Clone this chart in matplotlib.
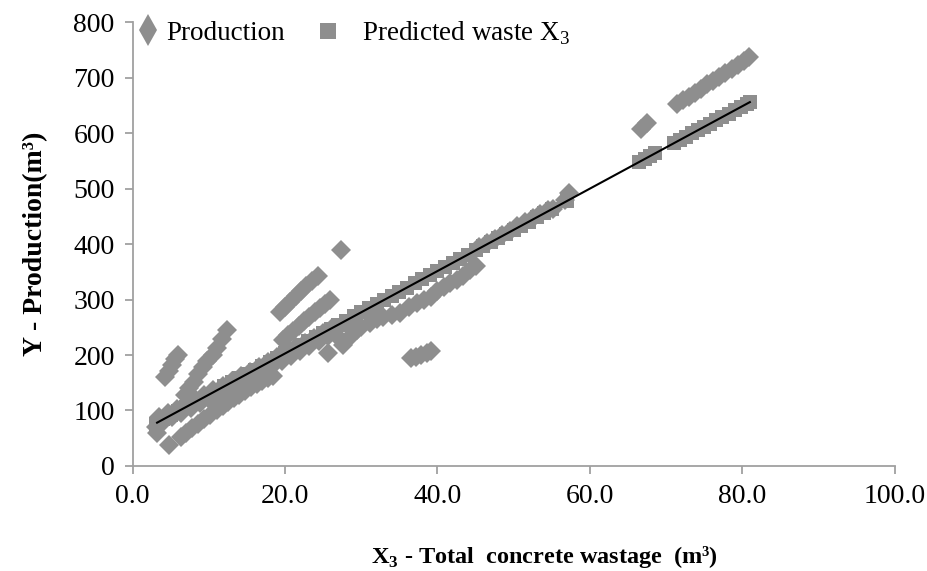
import matplotlib
matplotlib.use("Agg")
import matplotlib.pyplot as plt
import matplotlib.lines as mlines

plt.rcParams["font.family"] = ["Liberation Serif", "DejaVu Serif"]

# -- data ----------------------------------------------------------------------
# Production (diamonds): X3 wastage vs production
prod_x = [
    # near the trend line, lower-left
    3.0, 3.2, 3.4, 4.0, 4.6, 5.2, 5.8, 6.4, 7.0, 7.6, 8.2, 8.8, 9.4, 10.0, 10.6,
    11.2, 11.8, 12.4, 13.0, 13.6, 14.2, 14.8, 15.4, 16.0, 16.6, 17.2, 17.8, 18.4,
    19.0, 19.6, 20.2, 20.8, 21.4, 22.0, 22.6, 23.2, 23.8, 24.4, 25.0, 25.6, 26.2,
    # lower streak below the line
    4.8, 6.3, 7.0, 7.8, 8.6, 9.4, 10.2, 11.0, 11.8, 12.5, 13.3, 14.0, 14.8, 15.5,
    16.3, 17.0, 17.7, 18.4,
    # cluster above, x ~ 5
    4.3, 4.8, 5.2, 5.6, 6.0,
    # steep streak
    6.8, 7.4, 8.0, 8.6, 9.2, 9.8, 10.5, 11.0, 11.7, 12.4,
    # two streaks above the line around x = 20-26
    19.3, 20.0, 20.7, 21.4, 22.1, 22.8, 23.5, 24.3,
    19.7, 20.4, 21.1, 21.8, 22.5, 23.2, 23.9, 24.6, 25.3, 25.9,
    # isolated / below line
    27.3, 25.6, 27.6, 28.5, 29.5,
    # low cluster x ~ 36-40
    36.5, 37.2, 37.9, 38.6, 39.2,
    # band below the line x ~ 27-45
    26.9, 28.9, 30.0, 31.2, 32.0, 32.9, 34.0, 35.1, 36.2, 37.3, 38.2, 39.1,
    40.0, 40.8, 41.7, 42.5, 43.4, 44.3, 45.0,
    # near the line x ~ 45-56
    45.5, 46.5, 47.5, 48.5, 49.5, 50.5, 51.5, 52.5, 53.5, 54.5, 55.2,
    # x ~ 57
    56.8, 57.2,
    # x ~ 67
    66.7, 67.5,
    # upper streak x ~ 71-81
    71.4, 72.2, 73.0, 73.8, 74.6, 75.4, 76.2, 77.0, 77.8, 78.6, 79.4, 80.2, 80.9,
]
prod_y = [
    70, 60, 88, 80, 95, 88, 103, 96, 112, 105, 120, 113, 128, 121, 137,
    130, 145, 139, 154, 147, 162, 156, 170, 164, 179, 172, 188, 182,
    196, 190, 205, 199, 214, 208, 222, 216, 231, 225, 240, 234, 249,
    38, 52, 60, 68, 76, 84, 92, 100, 108, 115, 122, 128, 135, 142,
    148, 153, 158, 163,
    160, 172, 182, 192, 200,
    128, 140, 152, 165, 178, 190, 200, 212, 228, 245,
    278, 287, 296, 306, 315, 324, 333, 343,
    227, 236, 244, 252, 261, 269, 277, 285, 292, 299,
    390, 203, 218, 232, 245,
    194, 197, 200, 204, 207,
    232, 245, 250, 258, 265, 269, 272, 276, 286, 293, 300, 305,
    316, 323, 330, 335, 343, 353, 360,
    395, 402, 410, 417, 424, 432, 440, 447, 455, 461, 463,
    480, 492,
    608, 618,
    652, 659, 666, 673, 680, 688, 695, 702, 709, 716, 723, 731, 738,
]

# Predicted waste X3 (squares)
pred_x = [
    3, 4, 5, 6, 7, 8, 9, 10, 11, 12, 13, 14, 15, 16, 17, 18, 19, 20, 21, 22,
    23, 24, 25, 26, 27, 28, 29, 30, 31, 32, 33, 34, 35, 36, 37, 38, 39, 40,
    41, 42, 43, 44, 45, 46, 47, 48, 49, 50, 51, 52, 53, 54, 55, 57,
    66.5, 67.2, 67.9, 68.6,
    71.0, 71.8, 72.6, 73.4, 74.2, 75.0, 75.8, 76.6, 77.4, 78.2, 79.0, 79.8,
    80.6, 81.0,
]
pred_y = [
    76.5, 83.9, 91.4, 98.8, 106.2, 113.6, 121.1, 128.5, 135.9, 143.4, 150.8,
    158.2, 165.7, 173.1, 180.5, 187.9, 195.4, 202.8, 210.2, 217.7, 225.1,
    232.5, 240.0, 247.4, 254.8, 262.2, 269.7, 277.1, 284.5, 292.0, 299.4,
    306.8, 314.3, 321.7, 329.1, 336.5, 344.0, 351.4, 358.8, 366.3, 373.7,
    381.1, 388.6, 396.0, 403.4, 410.8, 418.3, 425.7, 433.1, 440.6, 448.0,
    455.4, 462.9, 477.7,
    548.3, 553.5, 558.7, 563.9,
    581.7, 587.7, 593.6, 599.6, 605.5, 611.5, 617.4, 623.3, 629.3, 635.2,
    641.2, 647.1, 653.1, 656.0,
]

# linear trend line end points
trend_x = [3.2, 81.0]
trend_y = [78, 656]

GRAY = "#8e8e8e"
AXIS = "#a0a0a0"

# -- figure --------------------------------------------------------------------
fig = plt.figure(figsize=(9.28, 5.71), dpi=100)
ax = fig.add_axes([0.143, 0.184, 0.821, 0.777])

ax.plot(prod_x, prod_y, linestyle="None", marker="D", markersize=10,
        color=GRAY, markeredgewidth=0, zorder=2)
ax.plot(pred_x, pred_y, linestyle="None", marker="s", markersize=10,
        color=GRAY, markeredgewidth=0, zorder=3)
ax.plot(trend_x, trend_y, color="black", lw=1.5, zorder=4)

ax.set_xlim(0, 100)
ax.set_ylim(0, 800)
ax.set_xticks([0, 20, 40, 60, 80, 100])
ax.set_xticklabels(["0.0", "20.0", "40.0", "60.0", "80.0", "100.0"])
ax.set_yticks(range(0, 801, 100))

for side in ["top", "right"]:
    ax.spines[side].set_visible(False)
for side in ["left", "bottom"]:
    ax.spines[side].set_color(AXIS)
    ax.spines[side].set_linewidth(1.3)
ax.tick_params(axis="both", direction="out", length=6, width=1.3,
               color=AXIS, labelsize=20, pad=7)

ax.set_ylabel("Y - Production(m³)", fontsize=20, fontweight="bold",
              labelpad=18)
ax.set_xlabel("X$_\\mathregular{3}$ - Total  concrete wastage  (m³)",
              fontsize=17.5, fontweight="bold", labelpad=22)
ax.xaxis.set_label_coords(0.541, -0.175)

# -- legend: two pieces so the marker/text gaps can differ ---------------------
h_prod = mlines.Line2D([], [], marker="d", color=GRAY, linestyle="None",
                       markersize=16, markeredgewidth=0, label="Production")
h_pred = mlines.Line2D([], [], marker="s", color=GRAY, linestyle="None",
                       markersize=11, markeredgewidth=0,
                       label="Predicted waste X$_\\mathregular{3}$")
leg1 = fig.legend(handles=[h_prod], loc="center left",
                  bbox_to_anchor=(140 / 928, 1 - 33 / 571), frameon=False,
                  fontsize=19.5, handlelength=0.6, handletextpad=0.37,
                  borderpad=0, borderaxespad=0)
leg2 = fig.legend(handles=[h_pred], loc="center left",
                  bbox_to_anchor=(320 / 928, 1 - 33 / 571), frameon=False,
                  fontsize=19.5, handlelength=0.6, handletextpad=0.96,
                  borderpad=0, borderaxespad=0)

plt.savefig("out.png", dpi=100)
plt.close()
